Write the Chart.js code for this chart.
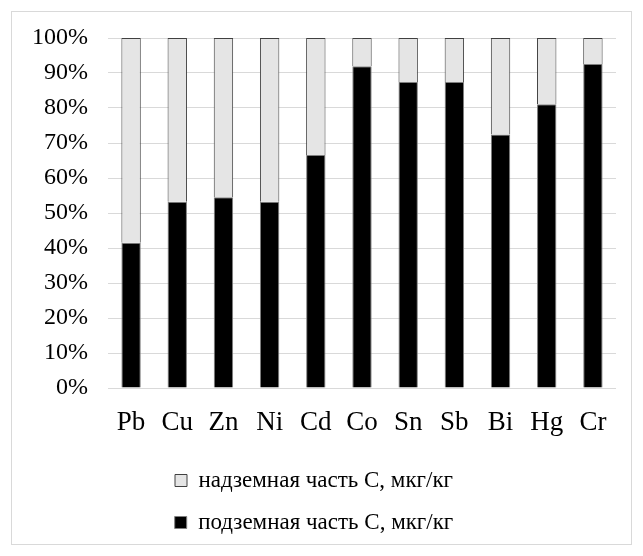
<!DOCTYPE html>
<html>
<head>
<meta charset="utf-8">
<script src="https://cdn.jsdelivr.net/npm/chart.js@4/dist/chart.umd.min.js"></script>
<style>
  body { margin: 0; background: #fff; }
  #box {
    position: absolute; left: 11px; top: 11px;
    width: 619px; height: 532px;
    border: 1px solid #d9d9d9;
  }
</style>
</head>
<body>
<div id="box"><canvas id="chart" width="619" height="532"></canvas></div>
<script>
const elements = ['Pb', 'Cu', 'Zn', 'Ni', 'Cd', 'Co', 'Sn', 'Sb', 'Bi', 'Hg', 'Cr'];
// share of each part, % of total
const underground = [41.5, 53.2, 54.5, 53.2, 66.6, 91.9, 87.4, 87.4, 72.4, 81.1, 92.6];
const aboveground = [58.5, 46.8, 45.5, 46.8, 33.4, 8.1, 12.6, 12.6, 27.6, 18.9, 7.4];
const seriesNames = ['надземная часть С, мкг/кг', 'подземная часть С, мкг/кг'];

const font = 'Liberation Serif, Times New Roman, serif';

const chart = new Chart(document.getElementById('chart'), {
  type: 'bar',
  data: {
    labels: elements,
    datasets: [
      {
        label: seriesNames[1],
        data: underground,
        backgroundColor: '#000000',
        borderColor: '#7f7f7f',
        borderWidth: 1,
        barPercentage: 0.42,
        categoryPercentage: 1,
      },
      {
        label: seriesNames[0],
        data: aboveground,
        backgroundColor: '#e5e5e5',
        borderColor: '#404040',
        borderWidth: 1,
        barPercentage: 0.42,
        categoryPercentage: 1,
      },
    ],
  },
  options: {
    responsive: false,
    animation: false,
    layout: { padding: { top: 26, right: 15, left: 0, bottom: 0 } },
    scales: {
      x: {
        stacked: true,
        grid: { display: false, drawTicks: false },
        border: { display: false },
        ticks: { color: '#000', font: { family: font, size: 27 }, padding: 19 },
        afterFit: (axis) => { axis.height = 62; },
      },
      y: {
        stacked: true,
        min: 0,
        max: 100,
        grid: { color: '#d9d9d9', drawTicks: false },
        border: { display: false },
        ticks: {
          stepSize: 10,
          color: '#000',
          padding: 20,
          font: { family: font, size: 24 },
          callback: (v) => v + '%',
        },
        afterFit: (axis) => { axis.paddingTop = 14; },
      },
    },
    plugins: {
      tooltip: { enabled: false },
      legend: {
        position: 'bottom',
        reverse: true,
        labels: {
          color: '#000',
          boxWidth: 12,
          boxHeight: 12,
          padding: 19,
          font: { family: font, size: 23 },
        },
      },
    },
  },
});
</script>
</body>
</html>
